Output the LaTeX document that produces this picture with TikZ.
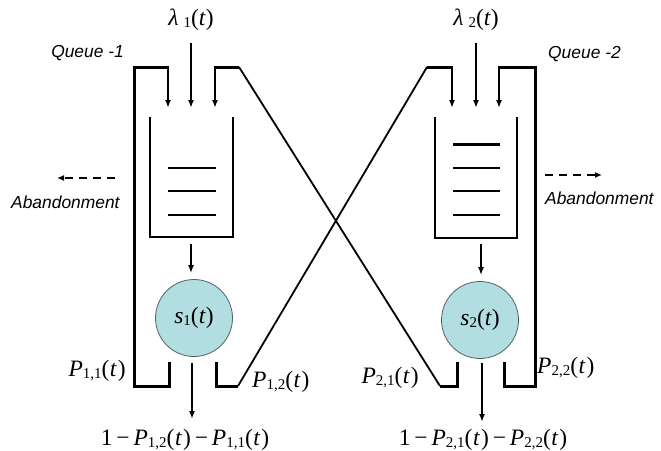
\documentclass[tikz,border=0pt]{standalone}
\usepackage{fontspec}
\setmainfont{Liberation Serif}
\newfontfamily\arsfont{Liberation Sans}
\usetikzlibrary{arrows.meta}
\definecolor{srv}{RGB}{178,221,225}
\definecolor{srvborder}{RGB}{80,100,100}
\newcommand{\mysub}[1]{{\fontsize{15}{15}\selectfont\raisebox{-0.12em}{#1}}}
\newcommand{\Pt}[1]{\textit{P}\mysub{#1}(\kern0.5pt\textit{t}\kern1pt)}
\begin{document}
\begin{tikzpicture}[x=1pt,y=-1pt,
  fb/.style={line width=3pt, line join=miter, line cap=butt},
  diag/.style={line width=1.8pt},
  arr/.style={line width=1.6pt, -{Latex[length=8pt,width=6pt]}},
  wall/.style={line width=2.7pt, line join=miter},
  item/.style={line width=2pt},
  mlabel/.style={font=\fontsize{23.5}{25}\selectfont, inner sep=0pt},
  slabel/.style={font=\arsfont\itshape\fontsize{17.4}{19}\selectfont, inner sep=0pt},
  dasharr/.style={line width=1.5pt, dash pattern=on 8pt off 6pt, -{Latex[length=7pt,width=6pt]}},
  server/.style={circle, draw=srvborder, line width=0.8pt, fill=srv, minimum size=77pt, inner sep=0pt, font=\fontsize{23.5}{25}\selectfont}
]
\useasboundingbox (0,0) rectangle (661,450);

% ---------- coordinates ----------
% queue 1
\coordinate (l1in) at (191,43);
\coordinate (q1mid) at (191,108);
\coordinate (q1left) at (168,108);
\coordinate (q1right) at (215,108);
\coordinate (q1out) at (191,244);
% queue 2
\coordinate (l2in) at (476,43);
\coordinate (q2mid) at (476,108);
\coordinate (q2left) at (452,108);
\coordinate (q2right) at (499,108);
\coordinate (q2out) at (481,244);

% ---------- servers ----------
\node[server] (s1) at (194,318) {\textit{s}\mysub{1}(\textit{t})};
\node[server] (s2) at (480,320) {\textit{s}\mysub{2}(\textit{t})};

% ---------- queue boxes ----------
\draw[wall] (150,117) -- (150,237) -- (233,237) -- (233,117);
\draw[item] (168,168) -- (216,168);
\draw[item] (168,191) -- (216,191);
\draw[item] (168,215) -- (216,215);

\draw[wall] (435,117) -- (435,238) -- (517,238) -- (517,117);
\draw[line width=3pt] (453,144) -- (500,144);
\draw[item] (453,168) -- (500,168);
\draw[item] (453,191) -- (500,191);
\draw[item] (453,215) -- (500,215);

% ---------- arrivals ----------
\node[mlabel] (lam1) at (191,20) {\textit{λ}\kern5pt\mysub{1}(\textit{t})};
\node[mlabel] (lam2) at (476,20) {\textit{λ}\kern5pt\mysub{2}(\textit{t})};
\draw[arr] (l1in) -- (q1mid);
\draw[arr] (l2in) -- (q2mid);

% ---------- queue to server ----------
\draw[arr, shorten >=6pt] (q1out) -- (q1out |- s1.north);
\draw[arr, shorten >=6pt] (q2out) -- (q2out |- s2.north);

% ---------- P11 feedback ----------
\coordinate (p11a) at (169,362);
\coordinate (p11b) at (169,386);
\coordinate (p11c) at (134,386);
\coordinate (p11d) at (134,67);
\coordinate (p11e) at (169,67);
\draw[fb] (p11a) -- (p11b) -- (p11c) -- (p11d) -- (p11e);
\draw[arr] (q1left |- p11e) -- (q1left);

% ---------- P22 feedback ----------
\coordinate (p22a) at (504,362);
\coordinate (p22b) at (504,386);
\coordinate (p22c) at (535,386);
\coordinate (p22d) at (535,67);
\coordinate (p22e) at (498,67);
\draw[fb] (p22a) -- (p22b) -- (p22c) -- (p22d) -- (p22e);
\draw[arr] (q2right |- p22e) -- (q2right);

% ---------- P12 cross ----------
\coordinate (p12a) at (216,362);
\coordinate (p12b) at (216,386);
\coordinate (p12c) at (238,386);
\coordinate (p12d) at (427,67);
\coordinate (p12e) at (453,67);
\draw[fb] (p12a) -- (p12b) -- (p12c);
\draw[diag] (p12c) -- (p12d);
\draw[fb] (p12d) -- (p12e);
\draw[arr] (q2left |- p12e) -- (q2left);

% ---------- P21 cross ----------
\coordinate (p21a) at (457,362);
\coordinate (p21b) at (457,386);
\coordinate (p21c) at (440,386);
\coordinate (p21d) at (239,67);
\coordinate (p21e) at (214,67);
\draw[fb] (p21a) -- (p21b) -- (p21c);
\draw[diag] (p21c) -- (p21d);
\draw[fb] (p21d) -- (p21e);
\draw[arr] (q1right |- p21e) -- (q1right);

% ---------- departures ----------
\coordinate (d1) at (192,363);
\coordinate (d1e) at (192,419);
\coordinate (d2) at (482,363);
\coordinate (d2e) at (482,422);
\draw[arr] (d1) -- (d1e);
\draw[arr] (d2) -- (d2e);
\node[mlabel] (o1) at (185,440) {1\,−\,\Pt{1,2}\,−\,\Pt{1,1}};
\node[mlabel] (o2) at (483,440) {1\,−\,\Pt{2,1}\,−\,\Pt{2,2}};

% ---------- routing labels ----------
\node[mlabel, anchor=east] (l11) at (126,371) {\Pt{1,1}};
\node[mlabel, anchor=west] (l12) at (252,382) {\Pt{1,2}};
\node[mlabel, anchor=east] (l21) at (419,378) {\Pt{2,1}};
\node[mlabel, anchor=west] (l22) at (537,368) {\Pt{2,2}};

% ---------- queue names and abandonment ----------
\node[slabel, anchor=east] (qn1) at (124,53) {Queue -1};
\node[slabel, anchor=west] (qn2) at (548,54) {Queue -2};
\coordinate (ab1s) at (115,178);
\coordinate (ab1e) at (57,178);
\coordinate (ab2s) at (545,175);
\coordinate (ab2e) at (602,175);
\draw[dasharr] (ab1s) -- (ab1e);
\draw[dasharr] (ab2s) -- (ab2e);
\node[slabel, anchor=west] (ab1) at (11,202) {Abandonment};
\node[slabel, anchor=west] (ab2) at (545,198) {Abandonment};
\end{tikzpicture}
\end{document}
